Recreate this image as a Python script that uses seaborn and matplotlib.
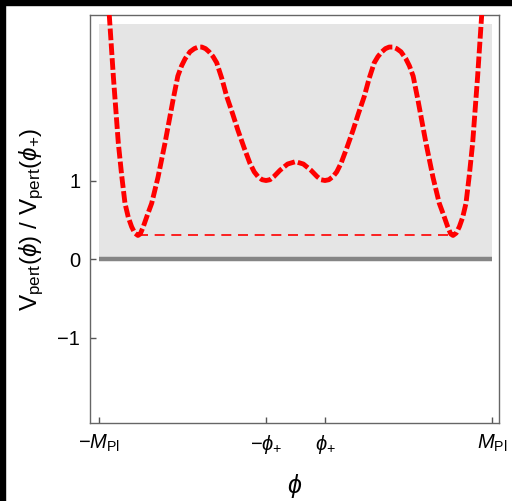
import numpy as np
import pandas as pd
import matplotlib
matplotlib.use("Agg")
import matplotlib.pyplot as plt
import seaborn as sns
from matplotlib.patches import Rectangle

# curve values (phi in units of M_Pl, V / V(phi_+))
phi = [-0.962, -0.948, -0.927, -0.902, -0.885, -0.868, -0.851, -0.834, -0.818,
       -0.802, -0.790, -0.775, -0.754, -0.732, -0.700, -0.664, -0.623, -0.599,
       -0.580, -0.562, -0.537, -0.515, -0.495, -0.477, -0.458, -0.440, -0.420,
       -0.401, -0.375, -0.350, -0.320, -0.293, -0.262, -0.232, -0.210, -0.191,
       -0.170, -0.150, -0.130, -0.110, -0.079, -0.040, 0.0,
       0.040, 0.079, 0.110, 0.130, 0.150, 0.170, 0.191, 0.210, 0.232, 0.262,
       0.293, 0.320, 0.350, 0.375, 0.401, 0.420, 0.440, 0.458, 0.477, 0.495,
       0.515, 0.537, 0.562, 0.580, 0.599, 0.623, 0.664, 0.700, 0.732, 0.754,
       0.775, 0.790, 0.802, 0.818, 0.834, 0.851, 0.868, 0.885, 0.902, 0.927,
       0.948, 0.962]
V = [3.60, 3.11, 2.32, 1.48, 1.07, 0.71, 0.53, 0.41, 0.33,
     0.30, 0.32, 0.41, 0.56, 0.71, 1.04, 1.48, 2.03, 2.33,
     2.46, 2.55, 2.64, 2.68, 2.70, 2.70, 2.68, 2.64, 2.58,
     2.50, 2.30, 2.07, 1.85, 1.64, 1.42, 1.22, 1.11, 1.05,
     1.01, 1.00, 1.01, 1.05, 1.13, 1.21, 1.24,
     1.21, 1.13, 1.05, 1.01, 1.00, 1.01, 1.05, 1.11, 1.22, 1.42,
     1.64, 1.85, 2.07, 2.30, 2.50, 2.58, 2.64, 2.68, 2.70, 2.70,
     2.68, 2.64, 2.55, 2.46, 2.33, 2.03, 1.48, 1.04, 0.71, 0.56,
     0.41, 0.32, 0.30, 0.33, 0.41, 0.53, 0.71, 1.07, 1.48, 2.32,
     3.11, 3.60]

V_min = 0.30          # false vacuum level (thin dashed line)
phi_min = 0.80
M_pl = 1.0
phi_plus = 0.15
band_top = 3.0

x_ticks = [-M_pl, -phi_plus, phi_plus, M_pl]
x_labels = [r"$-M_{\mathrm{Pl}}$", r"$-\phi_{+}$", r"$\phi_{+}$", r"$M_{\mathrm{Pl}}$"]
y_ticks = [-1, 0, 1]

sns.set_style("white")
plt.rcParams["font.family"] = ["Liberation Sans", "DejaVu Sans"]
plt.rcParams["mathtext.fontset"] = "custom"
plt.rcParams["mathtext.rm"] = "Liberation Sans"
plt.rcParams["mathtext.it"] = "Liberation Sans:italic"
plt.rcParams["mathtext.fallback"] = "stixsans"
plt.rcParams["text.color"] = "black"
plt.rcParams["axes.labelcolor"] = "black"
plt.rcParams["xtick.color"] = "black"
plt.rcParams["ytick.color"] = "black"

fig = plt.figure(figsize=(5.12, 5.01), dpi=100)
ax = fig.add_axes([0.1758, 0.1557, 0.7988, 0.8143])

# grey band and zero line
ax.fill_between([-M_pl, M_pl], 0, band_top, color="#e5e5e5", lw=0, zorder=0)
ax.plot([-M_pl, M_pl], [0, 0], color="#858585", lw=3.2, solid_capstyle="butt", zorder=1)

# thin dashed line at the false-vacuum level
ax.plot([-phi_min, phi_min], [V_min, V_min], color="red", lw=1.2,
        dashes=(6, 4), zorder=2)

df = pd.DataFrame({"phi": phi, "V": V})
sns.lineplot(data=df, x="phi", y="V", ax=ax, color="red", lw=3.5, sort=False,
             estimator=None, zorder=3)
ax.lines[-1].set_dashes((2.4, 0.65))
ax.lines[-1].set_dash_capstyle("butt")
ax.lines[-1].set_solid_joinstyle("round")

ax.set_xlim(-1.046, 1.036)
ax.set_ylim(-2.089, 3.108)
ax.set_xticks(x_ticks)
ax.set_xticklabels(x_labels)
ax.set_yticks(y_ticks)
ax.tick_params(bottom=True, left=True, direction="in", length=4.5, width=1,
               color="#555555", labelcolor="black", labelsize=14.5, pad=7)
for s in ax.spines.values():
    s.set_color("#666666")
    s.set_linewidth(1.0)

ax.set_xlabel(r"$\phi$", fontsize=18, labelpad=12)
ax.set_ylabel(r"$\mathrm{V}_{\mathrm{pert}}(\phi)\ /\ \mathrm{V}_{\mathrm{pert}}(\phi_{+})$",
              fontsize=17.5, labelpad=8)

# black strips along the top and left edges of the reference image
fig.patches.append(Rectangle((0, 0.99), 1, 0.01, transform=fig.transFigure,
                             color="black", zorder=10))
fig.patches.append(Rectangle((0, 0), 0.0098, 1, transform=fig.transFigure,
                             color="black", zorder=10))

fig.savefig("out.png", dpi=100)
